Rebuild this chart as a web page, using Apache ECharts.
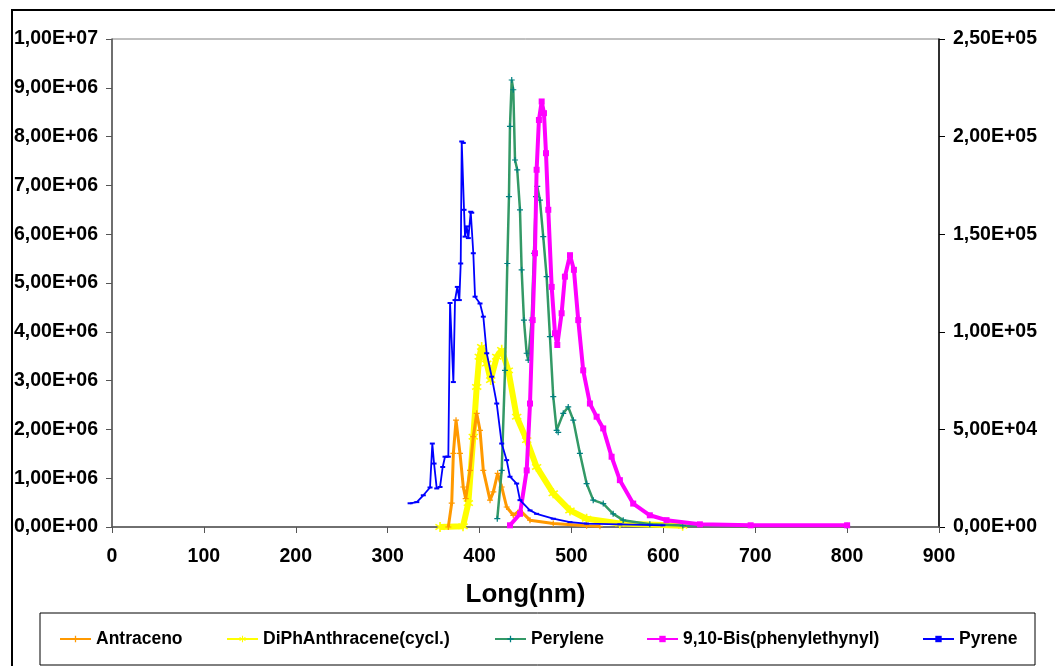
<!DOCTYPE html>
<html>
<head>
<meta charset="utf-8">
<script src="https://cdn.jsdelivr.net/npm/echarts@6/dist/echarts.min.js"></script>
<style>
html,body{margin:0;padding:0;background:#fff;}
#chart{width:1055px;height:666px;}
</style>
</head>
<body>
<div id="chart"></div>
<script>
// ---- data (wavelength nm, intensity) ----
var seriesNames = ['Antraceno', 'DiPhAnthracene(cycl.)', 'Perylene', '9,10-Bis(phenylethynyl)', 'Pyrene'];
var xTicks = [0, 100, 200, 300, 400, 500, 600, 700, 800, 900];
var leftTicks = [0, 1e6, 2e6, 3e6, 4e6, 5e6, 6e6, 7e6, 8e6, 9e6, 1e7];
var rightTicks = [0, 5e4, 1e5, 1.5e5, 2e5, 2.5e5];

var antraceno = [
  [366, 0], [369.7, 0.49e6], [371.5, 1.51e6], [374.4, 2.19e6], [378.7, 1.51e6],
  [382.3, 0.82e6], [384.9, 0.58e6], [389.6, 1.16e6], [393.2, 1.85e6], [396.9, 2.33e6],
  [400.5, 1.98e6], [404.1, 1.16e6], [411.4, 0.55e6], [415, 0.72e6], [419.7, 1.10e6],
  [424.1, 0.82e6], [429.5, 0.41e6], [436.7, 0.24e6], [444, 0.34e6], [454.9, 0.14e6],
  [480.2, 0.07e6], [516.5, 0.025e6], [531, 0.015e6]
];
var diphAnthracene = [
  [357, 0], [382, 0.015e6], [387.8, 0.49e6], [393.2, 1.85e6], [396.9, 2.87e6],
  [399.7, 3.49e6], [402.3, 3.69e6], [407.8, 3.35e6], [412.1, 3.01e6], [418.7, 3.49e6],
  [424.1, 3.63e6], [431.3, 3.21e6], [440.4, 2.26e6], [451.3, 1.78e6], [462.1, 1.23e6],
  [480.2, 0.69e6], [498.4, 0.34e6], [516.5, 0.17e6], [552.7, 0.07e6], [621, 0.025e6]
];
var perylene = [
  [419.3, 0.17e6], [424.1, 1.16e6], [427.7, 3.21e6], [430.2, 5.40e6], [432, 6.77e6],
  [433.1, 8.21e6], [435, 9.16e6], [436.7, 8.96e6], [438.6, 7.52e6], [441, 7.32e6],
  [444, 6.50e6], [445.8, 5.27e6], [448.3, 4.24e6], [451.3, 3.56e6], [453, 3.42e6],
  [456.7, 4.24e6], [459.2, 5.61e6], [461.4, 6.77e6], [462.8, 6.98e6], [465.7, 6.70e6],
  [469.3, 5.95e6], [473, 5.13e6], [476.6, 3.90e6], [480.2, 2.67e6], [483.9, 1.98e6],
  [485.6, 1.94e6], [491.1, 2.33e6], [496.5, 2.46e6], [502, 2.19e6], [509.2, 1.51e6],
  [516.5, 0.89e6], [523.7, 0.55e6], [534.6, 0.48e6], [545.4, 0.27e6], [556.3, 0.14e6],
  [585.3, 0.055e6], [621.2, 0.03e6], [800, 0.025e6]
];
var bisPhenylethynyl = [
  [433.1, 0.035e6], [444, 0.27e6], [451.3, 1.16e6], [454.9, 2.53e6], [457.8, 4.24e6],
  [460.3, 5.61e6], [462.1, 7.32e6], [464.6, 8.34e6], [467.6, 8.72e6], [470.1, 8.48e6],
  [472.3, 7.66e6], [474.8, 6.50e6], [478.5, 4.92e6], [482.1, 3.97e6], [484.6, 3.73e6],
  [489.3, 4.38e6], [492.9, 5.13e6], [498.4, 5.57e6], [502.7, 5.27e6], [507.4, 4.24e6],
  [512.8, 3.21e6], [520.1, 2.53e6], [527.4, 2.26e6], [534.6, 2.02e6], [543.7, 1.44e6],
  [552.7, 0.96e6], [567.2, 0.48e6], [585.3, 0.24e6], [603.5, 0.14e6], [639.8, 0.055e6],
  [695, 0.035e6], [800, 0.035e6]
];
var pyrene = [
  [324.4, 0.486e6], [331.7, 0.51e6], [338.8, 0.65e6], [346.1, 0.81e6], [348.6, 1.71e6],
  [350.5, 1.30e6], [353.4, 0.79e6], [357, 0.82e6], [359.9, 1.23e6], [362.4, 1.44e6],
  [366, 1.44e6], [367.9, 4.59e6], [371.5, 2.97e6], [373.3, 4.65e6], [375.8, 4.92e6],
  [378, 4.65e6], [379.5, 5.40e6], [380.6, 7.90e6], [382.3, 7.87e6], [383.1, 6.50e6],
  [384.2, 5.95e6], [386, 6.16e6], [387.8, 5.92e6], [390.4, 6.46e6], [391.5, 6.44e6],
  [393.2, 5.61e6], [395.1, 4.72e6], [400.5, 4.58e6], [404.1, 4.31e6], [407.8, 3.56e6],
  [413.2, 3.08e6], [418.7, 2.53e6], [424.1, 1.71e6], [429.5, 1.37e6], [433.1, 1.03e6],
  [440.4, 0.89e6], [444, 0.55e6], [454.9, 0.34e6], [462.1, 0.27e6], [480.2, 0.17e6],
  [498.4, 0.10e6], [516.5, 0.07e6], [552.7, 0.055e6], [599.5, 0.035e6]
];

// ---- helpers ----
function sci(v) {
  if (v === 0) return '0,00E+00';
  var e = Math.floor(Math.log10(Math.abs(v)) + 1e-9);
  var m = v / Math.pow(10, e);
  var s = m.toFixed(2).replace('.', ',');
  var ae = Math.abs(e);
  return s + 'E' + (e < 0 ? '-' : '+') + (ae < 10 ? '0' : '') + ae;
}
var FONT = "'Liberation Sans', Arial, sans-serif";
var plusPath = 'path://M0,4H10V6H0Z M4,0H6V10H4Z';
var starPath = 'path://M4.3,0H5.7V3.3L8.6,1.6L9.3,2.8L6.4,4.5L9.3,6.2L8.6,7.4L5.7,5.7V9H4.3V5.7L1.4,7.4L0.7,6.2L3.6,4.5L0.7,2.8L1.4,1.6L4.3,3.3Z';

var chart = echarts.init(document.getElementById('chart'));

var legendLefts = [59, 226, 494, 646, 922];
var legends = seriesNames.map(function (n, i) {
  return {
    data: [n],
    left: legendLefts[i],
    top: 630,
    orient: 'horizontal',
    itemWidth: 31,
    itemHeight: 8,
    itemGap: 5,
    padding: 0,
    textStyle: { fontFamily: FONT, fontWeight: 'bold', fontSize: 17.5, color: '#000' },
    selectedMode: false
  };
});

var option = {
  animation: false,
  backgroundColor: '#fff',
  grid: { left: 112, right: 116, top: 39, bottom: 139, show: true, borderColor: '#808080', borderWidth: 1, containLabel: false },
  legend: legends,
  graphic: [
    { type: 'rect', shape: { x: 12, y: 10, width: 1200, height: 800 }, style: { fill: 'none', stroke: '#000', lineWidth: 2 }, silent: true },
    { type: 'rect', shape: { x: 40, y: 613, width: 995, height: 52 }, style: { fill: 'none', stroke: '#000', lineWidth: 1 }, silent: true }
  ],
  xAxis: {
    type: 'value', min: xTicks[0], max: xTicks[xTicks.length - 1], interval: 100,
    name: 'Long(nm)', nameLocation: 'middle', nameGap: 55,
    nameTextStyle: { fontFamily: FONT, fontWeight: 'bold', fontSize: 26, color: '#000' },
    axisLine: { lineStyle: { color: '#555', width: 1.5 } },
    axisTick: { show: true, inside: false, length: 6, lineStyle: { color: '#555' } },
    axisLabel: { margin: 20, fontFamily: FONT, fontWeight: 'bold', fontSize: 19.5, color: '#000' },
    splitLine: { show: false }
  },
  yAxis: [
    {
      type: 'value', position: 'left', min: leftTicks[0], max: leftTicks[leftTicks.length - 1], interval: 1e6,
      axisLine: { show: true, lineStyle: { color: '#555', width: 1.5 } },
      axisTick: { show: true, inside: false, length: 6, lineStyle: { color: '#555' } },
      axisLabel: { margin: 14, fontFamily: FONT, fontWeight: 'bold', fontSize: 19.5, color: '#000', formatter: sci },
      splitLine: { show: false }
    },
    {
      type: 'value', position: 'right', min: rightTicks[0], max: rightTicks[rightTicks.length - 1], interval: 5e4,
      axisLine: { show: true, lineStyle: { color: '#000', width: 1.5 } },
      axisTick: { show: true, inside: false, length: 6, lineStyle: { color: '#000' } },
      axisLabel: { margin: 14, fontFamily: FONT, fontWeight: 'bold', fontSize: 19.5, color: '#000', formatter: sci },
      splitLine: { show: false }
    }
  ],
  series: [
    {
      name: seriesNames[1], type: 'line', data: diphAnthracene, z: 2, showAllSymbol: true,
      symbol: starPath, symbolSize: 10,
      itemStyle: { color: '#FFFF00' }, lineStyle: { color: '#FFFF00', width: 6 }
    },
    {
      name: seriesNames[0], type: 'line', data: antraceno, z: 3, showAllSymbol: true,
      symbol: plusPath, symbolSize: 6,
      itemStyle: { color: '#FF9900' }, lineStyle: { color: '#FF9900', width: 3 }
    },
    {
      name: seriesNames[2], type: 'line', data: perylene, z: 4, showAllSymbol: true,
      symbol: plusPath, symbolSize: 6,
      itemStyle: { color: '#008080' }, lineStyle: { color: '#339966', width: 2.5 }
    },
    {
      name: seriesNames[3], type: 'line', data: bisPhenylethynyl, z: 5, showAllSymbol: true,
      symbol: 'rect', symbolSize: 6,
      itemStyle: { color: '#FF00FF' }, lineStyle: { color: '#FF00FF', width: 4 }
    },
    {
      name: seriesNames[4], type: 'line', data: pyrene, z: 6, showAllSymbol: true,
      symbol: 'rect', symbolSize: [5, 2],
      itemStyle: { color: '#0000FF' }, lineStyle: { color: '#0000FF', width: 1.8 }
    }
  ]
};
chart.setOption(option);
</script>
</body>
</html>
